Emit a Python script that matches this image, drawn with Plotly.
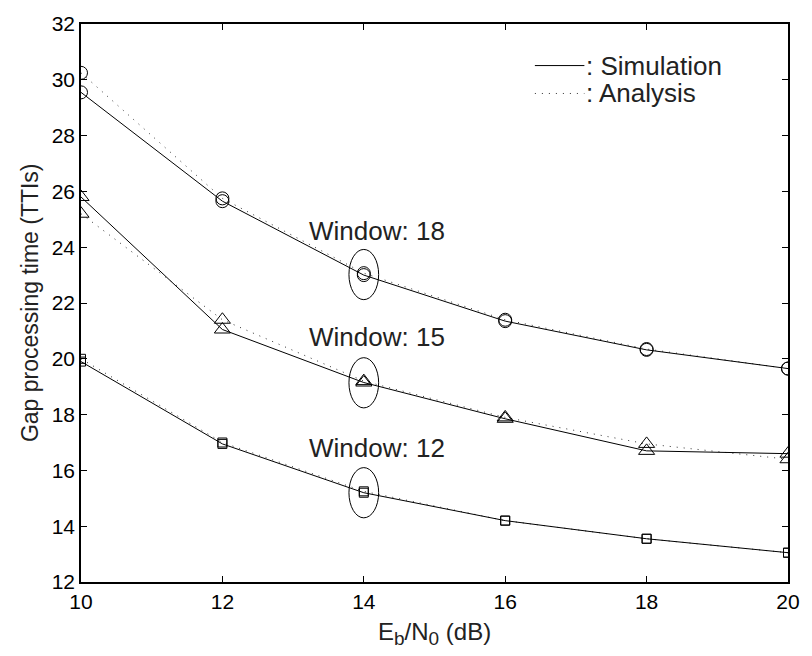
import plotly.graph_objects as go

x = [10, 12, 14, 16, 18, 20]
w18_sim = [29.55, 25.65, 23.0, 21.35, 20.32, 19.65]
w18_ana = [30.25, 25.75, 23.07, 21.4, 20.35, 19.65]
w15_sim = [25.8, 21.05, 19.15, 17.85, 16.7, 16.6]
w15_ana = [25.2, 21.4, 19.2, 17.9, 16.95, 16.4]
w12_sim = [19.9, 16.95, 15.2, 14.2, 13.55, 13.05]
w12_ana = [20.0, 17.0, 15.25, 14.2, 13.55, 13.05]

labels = ["Window: 18", "Window: 15", "Window: 12"]
label_y = [24.58, 20.77, 16.8]
ellipse_y = [23.02, 19.14, 15.2]
ellipse_x = 14

FONT = "Liberation Sans, Arial, sans-serif"

fig = go.Figure()
series = [
    (w18_sim, w18_ana, "circle-open", 13),
    (w15_sim, w15_ana, "triangle-up-open", 14),
    (w12_sim, w12_ana, "square-open", 9),
]
for sim, ana, sym, sz in series:
    fig.add_trace(go.Scatter(x=x, y=ana, mode="lines+markers",
                             line=dict(color="#333333", width=1, dash="1px,6px"),
                             marker=dict(symbol=sym, size=sz, color="black", line=dict(width=1, color="black")),
                             showlegend=False))
    fig.add_trace(go.Scatter(x=x, y=sim, mode="lines+markers",
                             line=dict(color="black", width=1),
                             marker=dict(symbol=sym, size=sz, color="black", line=dict(width=1, color="black")),
                             showlegend=False))

shapes = []
for cy in ellipse_y:
    shapes.append(dict(type="circle", xref="x", yref="y",
                       x0=ellipse_x - 0.21, x1=ellipse_x + 0.21, y0=cy - 0.9, y1=cy + 0.9,
                       line=dict(color="black", width=1)))
# legend line samples
shapes.append(dict(type="line", xref="x", yref="y", x0=16.42, x1=17.12, y0=30.51, y1=30.51,
                   line=dict(color="black", width=1)))
shapes.append(dict(type="line", xref="x", yref="y", x0=16.42, x1=17.12, y0=29.51, y1=29.51,
                   line=dict(color="#333333", width=1, dash="1px,6px")))

annotations = []
for t, ly in zip(labels, label_y):
    annotations.append(dict(x=14.18, y=ly, xref="x", yref="y", text=t, showarrow=False,
                            font=dict(family=FONT, size=26, color="#222222")))
annotations.append(dict(x=17.12, y=30.51, xref="x", yref="y", text=": Simulation", showarrow=False,
                        xanchor="left", font=dict(family=FONT, size=26, color="#222222")))
annotations.append(dict(x=17.12, y=29.51, xref="x", yref="y", text=": Analysis", showarrow=False,
                        xanchor="left", font=dict(family=FONT, size=26, color="#222222")))
annotations.append(dict(x=-0.072, y=0.5, xref="paper", yref="paper", text="Gap processing time (TTIs)",
                        textangle=-90, showarrow=False, xanchor="center", yanchor="middle",
                        font=dict(family=FONT, size=23, color="#222222")))
annotations.append(dict(x=0.5, y=-0.092, xref="paper", yref="paper",
                        text="E<sub><span style='font-size:19px'>b</span></sub>/N<sub><span style='font-size:19px'>0</span></sub> (dB)",
                        showarrow=False, xanchor="center", yanchor="middle",
                        font=dict(family=FONT, size=24, color="#222222")))

axis_common = dict(showline=True, linecolor="black", linewidth=1.5, mirror="ticks",
                   ticks="inside", ticklen=6, tickcolor="black", showgrid=False, zeroline=False,
                   tickfont=dict(family=FONT, size=21, color="black"))

fig.update_layout(
    width=812, height=656,
    margin=dict(l=81, r=16, t=19, b=74),
    plot_bgcolor="white", paper_bgcolor="white",
    xaxis=dict(range=[10, 20], tickvals=[10, 12, 14, 16, 18, 20], **axis_common),
    yaxis=dict(range=[12, 32], tickvals=list(range(12, 33, 2)), **axis_common),
    shapes=shapes, annotations=annotations,
)
fig.write_html("out.html")
